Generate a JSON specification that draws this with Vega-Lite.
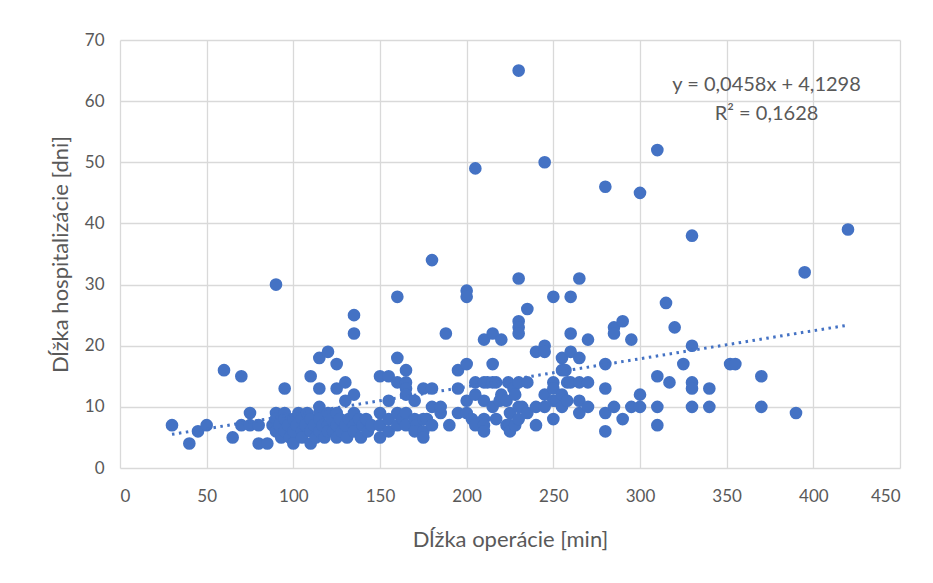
{
  "$schema": "https://vega.github.io/schema/vega-lite/v6.json",
  "width": 780,
  "height": 428,
  "autosize": {"type": "none"},
  "padding": {"left": 120, "top": 40, "right": 33, "bottom": 115},
  "background": "white",
  "config": {
    "font": "Lato",
    "view": {"stroke": null},
    "axis": {
      "gridColor": "#d9d9d9",
      "gridWidth": 1.3,
      "domain": false,
      "ticks": false,
      "labelColor": "#595959",
      "labelFontSize": 17,
      "labelFont": "Lato",
      "titleColor": "#595959",
      "titleFont": "Lato",
      "titleFontSize": 22,
      "titleFontWeight": "normal"
    }
  },
  "datasets": {
    "cases": [
      {"op": 30, "days": 7}, {"op": 40, "days": 4}, {"op": 45, "days": 6}, {"op": 50, "days": 7},
      {"op": 60, "days": 16}, {"op": 65, "days": 5}, {"op": 70, "days": 15}, {"op": 70, "days": 7},
      {"op": 75, "days": 9}, {"op": 75, "days": 7}, {"op": 80, "days": 7}, {"op": 80, "days": 4},
      {"op": 85, "days": 4}, {"op": 90, "days": 30}, {"op": 95, "days": 13}, {"op": 90, "days": 9},
      {"op": 88, "days": 7}, {"op": 90, "days": 8}, {"op": 90, "days": 6}, {"op": 92, "days": 7},
      {"op": 93, "days": 5}, {"op": 95, "days": 9}, {"op": 95, "days": 8}, {"op": 95, "days": 6},
      {"op": 97, "days": 7}, {"op": 98, "days": 5}, {"op": 100, "days": 4}, {"op": 100, "days": 8},
      {"op": 100, "days": 6}, {"op": 102, "days": 7}, {"op": 103, "days": 9}, {"op": 105, "days": 8},
      {"op": 105, "days": 6}, {"op": 105, "days": 5}, {"op": 107, "days": 7}, {"op": 108, "days": 9},
      {"op": 110, "days": 4}, {"op": 110, "days": 8}, {"op": 110, "days": 6}, {"op": 112, "days": 7},
      {"op": 113, "days": 5}, {"op": 115, "days": 10}, {"op": 115, "days": 9}, {"op": 115, "days": 8},
      {"op": 115, "days": 6}, {"op": 117, "days": 7}, {"op": 118, "days": 5}, {"op": 120, "days": 9},
      {"op": 120, "days": 7}, {"op": 120, "days": 6}, {"op": 122, "days": 8}, {"op": 123, "days": 6},
      {"op": 125, "days": 5}, {"op": 125, "days": 9}, {"op": 125, "days": 7}, {"op": 127, "days": 8},
      {"op": 128, "days": 6}, {"op": 130, "days": 7}, {"op": 131, "days": 5}, {"op": 132, "days": 8},
      {"op": 135, "days": 9}, {"op": 135, "days": 7}, {"op": 135, "days": 6}, {"op": 138, "days": 8},
      {"op": 139, "days": 5}, {"op": 140, "days": 7}, {"op": 142, "days": 8}, {"op": 143, "days": 6},
      {"op": 145, "days": 7},
      {"op": 110, "days": 15}, {"op": 115, "days": 18}, {"op": 120, "days": 19}, {"op": 125, "days": 17},
      {"op": 115, "days": 13}, {"op": 125, "days": 13}, {"op": 130, "days": 14}, {"op": 135, "days": 12},
      {"op": 130, "days": 11}, {"op": 135, "days": 22}, {"op": 135, "days": 25},
      {"op": 150, "days": 15}, {"op": 155, "days": 15}, {"op": 150, "days": 5}, {"op": 150, "days": 7},
      {"op": 150, "days": 9}, {"op": 155, "days": 6}, {"op": 155, "days": 8}, {"op": 155, "days": 11},
      {"op": 160, "days": 7}, {"op": 160, "days": 9}, {"op": 160, "days": 14}, {"op": 160, "days": 18},
      {"op": 160, "days": 28}, {"op": 163, "days": 8}, {"op": 165, "days": 16}, {"op": 165, "days": 14},
      {"op": 165, "days": 13}, {"op": 165, "days": 12}, {"op": 165, "days": 9}, {"op": 165, "days": 7},
      {"op": 170, "days": 11}, {"op": 170, "days": 8}, {"op": 171, "days": 7}, {"op": 170, "days": 6},
      {"op": 175, "days": 13}, {"op": 175, "days": 8}, {"op": 175, "days": 6}, {"op": 175, "days": 5},
      {"op": 177, "days": 8}, {"op": 180, "days": 13}, {"op": 180, "days": 10}, {"op": 180, "days": 7},
      {"op": 185, "days": 9}, {"op": 185, "days": 10}, {"op": 180, "days": 34}, {"op": 188, "days": 22},
      {"op": 190, "days": 7}, {"op": 195, "days": 16}, {"op": 195, "days": 13}, {"op": 195, "days": 9},
      {"op": 200, "days": 17}, {"op": 200, "days": 11}, {"op": 200, "days": 9}, {"op": 200, "days": 29},
      {"op": 200, "days": 28},
      {"op": 203, "days": 8}, {"op": 205, "days": 49}, {"op": 205, "days": 12}, {"op": 205, "days": 14},
      {"op": 205, "days": 7}, {"op": 210, "days": 21}, {"op": 210, "days": 14}, {"op": 210, "days": 11},
      {"op": 210, "days": 8}, {"op": 210, "days": 7}, {"op": 210, "days": 6}, {"op": 212, "days": 14},
      {"op": 215, "days": 22}, {"op": 215, "days": 17}, {"op": 215, "days": 14}, {"op": 215, "days": 10},
      {"op": 217, "days": 14}, {"op": 217, "days": 8}, {"op": 219, "days": 11}, {"op": 220, "days": 21},
      {"op": 220, "days": 12}, {"op": 223, "days": 11}, {"op": 223, "days": 7}, {"op": 224, "days": 14},
      {"op": 225, "days": 9}, {"op": 225, "days": 7}, {"op": 225, "days": 6}, {"op": 227, "days": 13},
      {"op": 228, "days": 12}, {"op": 228, "days": 7}, {"op": 230, "days": 65}, {"op": 230, "days": 31},
      {"op": 230, "days": 24}, {"op": 230, "days": 23}, {"op": 230, "days": 22}, {"op": 230, "days": 14},
      {"op": 230, "days": 10}, {"op": 230, "days": 8}, {"op": 232, "days": 10}, {"op": 235, "days": 26},
      {"op": 235, "days": 14}, {"op": 235, "days": 9}, {"op": 240, "days": 19}, {"op": 240, "days": 10},
      {"op": 240, "days": 7},
      {"op": 245, "days": 50}, {"op": 245, "days": 20}, {"op": 245, "days": 19}, {"op": 245, "days": 12},
      {"op": 245, "days": 10}, {"op": 250, "days": 28}, {"op": 250, "days": 14}, {"op": 250, "days": 13},
      {"op": 250, "days": 11}, {"op": 250, "days": 8}, {"op": 252, "days": 11}, {"op": 255, "days": 18},
      {"op": 255, "days": 16}, {"op": 255, "days": 12}, {"op": 255, "days": 10}, {"op": 257, "days": 16},
      {"op": 258, "days": 14}, {"op": 258, "days": 11}, {"op": 260, "days": 28}, {"op": 260, "days": 22},
      {"op": 260, "days": 19}, {"op": 260, "days": 14}, {"op": 265, "days": 31}, {"op": 265, "days": 18},
      {"op": 265, "days": 14}, {"op": 265, "days": 11}, {"op": 265, "days": 9}, {"op": 270, "days": 21},
      {"op": 270, "days": 14}, {"op": 270, "days": 10}, {"op": 280, "days": 46}, {"op": 280, "days": 17},
      {"op": 280, "days": 13}, {"op": 280, "days": 9}, {"op": 280, "days": 6}, {"op": 285, "days": 23},
      {"op": 285, "days": 22}, {"op": 285, "days": 10}, {"op": 290, "days": 24}, {"op": 290, "days": 8},
      {"op": 295, "days": 21}, {"op": 295, "days": 10}, {"op": 300, "days": 45}, {"op": 300, "days": 12},
      {"op": 300, "days": 10},
      {"op": 310, "days": 52}, {"op": 310, "days": 15}, {"op": 310, "days": 10}, {"op": 310, "days": 7},
      {"op": 315, "days": 27}, {"op": 317, "days": 14}, {"op": 320, "days": 23}, {"op": 325, "days": 17},
      {"op": 330, "days": 38}, {"op": 330, "days": 20}, {"op": 330, "days": 14}, {"op": 330, "days": 13},
      {"op": 330, "days": 10}, {"op": 340, "days": 13}, {"op": 340, "days": 10}, {"op": 352, "days": 17},
      {"op": 355, "days": 17}, {"op": 370, "days": 15}, {"op": 370, "days": 10}, {"op": 390, "days": 9},
      {"op": 395, "days": 32}, {"op": 420, "days": 39}
    ],
    "trend": [
      {"op": 30, "days": 5.5038},
      {"op": 420, "days": 23.3658}
    ],
    "notes": [
      {"op": 373, "days": 62.7, "label": "y = 0,0458x + 4,1298"},
      {"op": 373, "days": 57.9, "label": "R² = 0,1628"}
    ]
  },
  "layer": [
    {
      "data": {"name": "cases"},
      "mark": {"type": "circle", "size": 160, "color": "#4472C4", "opacity": 1},
      "encoding": {
        "x": {
          "field": "op", "type": "quantitative",
          "scale": {"domain": [0, 450], "nice": false, "zero": false},
          "axis": {
            "values": [0, 50, 100, 150, 200, 250, 300, 350, 400, 450],
            "title": "Dĺžka operácie [min]",
            "labelPadding": 20,
            "titlePadding": 25
          }
        },
        "y": {
          "field": "days", "type": "quantitative",
          "scale": {"domain": [0, 70], "nice": false},
          "axis": {
            "values": [0, 10, 20, 30, 40, 50, 60, 70],
            "title": "Dĺžka hospitalizácie [dni]",
            "labelPadding": 16,
            "titlePadding": 12
          }
        }
      }
    },
    {
      "data": {"name": "trend"},
      "mark": {"type": "line", "color": "#4472C4", "strokeWidth": 3, "strokeDash": [2.5, 4.5]},
      "encoding": {
        "x": {"field": "op", "type": "quantitative"},
        "y": {"field": "days", "type": "quantitative"}
      }
    },
    {
      "data": {"name": "notes"},
      "mark": {"type": "text", "color": "#595959", "fontSize": 20, "font": "Lato", "align": "center", "baseline": "middle"},
      "encoding": {
        "x": {"field": "op", "type": "quantitative"},
        "y": {"field": "days", "type": "quantitative"},
        "text": {"field": "label"}
      }
    }
  ]
}
